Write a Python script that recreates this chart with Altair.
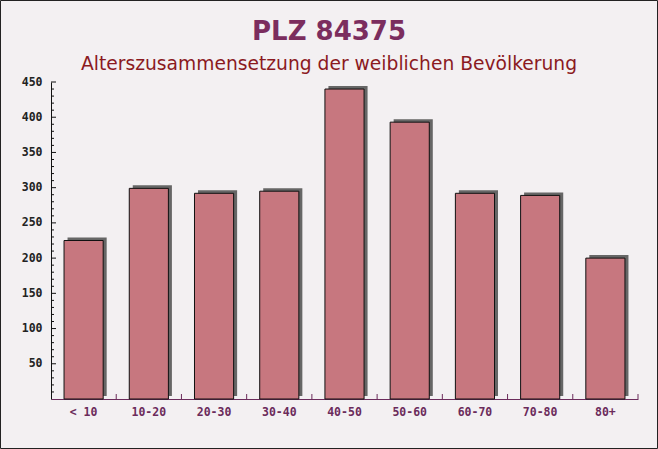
import altair as alt
import pandas as pd

categories = ["< 10", "10-20", "20-30", "30-40", "40-50", "50-60", "60-70", "70-80", "80+"]
values = [225, 299, 292, 295, 440, 393, 292, 289, 200]
y_minor_ticks = [10, 20, 30, 40, 60, 70, 80, 90, 110, 120, 130, 140, 160, 170, 180, 190,
                 210, 220, 230, 240, 260, 270, 280, 290, 310, 320, 330, 340, 360, 370,
                 380, 390, 410, 420, 430, 440]
y_labels = [50, 100, 150, 200, 250, 300, 350, 400, 450]
title_text = "PLZ 84375"
subtitle_text = "Alterszusammensetzung der weiblichen Bevölkerung"

W, H = 587, 317
PAD_L, PAD_T, PAD_R, PAD_B = 51, 82, 20, 50
STEP = W / len(categories)
CENTER = 329 - PAD_L

df = pd.DataFrame({"cat": categories, "val": values})
minor_df = pd.DataFrame({"t": y_minor_ticks})
major_df = pd.DataFrame({"t": y_labels})
xt_df = pd.DataFrame({"cat": categories})
one = pd.DataFrame({"a": [0]})

xscale = alt.Scale(domain=categories, paddingInner=0.4, paddingOuter=0.2)
yscale = alt.Scale(domain=[0, 450], nice=False)

mono = "DejaVu Sans Mono"

x_axis = alt.Axis(title=None, ticks=False, domain=True, domainColor="#6b2b5b",
                  domainWidth=1, labelFont=mono, labelFontWeight="bold",
                  labelFontSize=11.5, labelColor="#6b2b5b", labelPadding=7,
                  labelAngle=0, grid=False)
y_axis = alt.Axis(title=None, values=y_labels, ticks=False, grid=False,
                  domainColor="#111111", labelFont=mono, labelFontWeight="bold",
                  labelFontSize=11.5, labelColor="#222222", labelPadding=9)

shadow = alt.Chart(df).mark_bar(color="#5e5e5e", xOffset=3.5, yOffset=-3, opacity=0.95).encode(
    x=alt.X("cat:N", scale=xscale, sort=categories, axis=x_axis),
    y=alt.Y("val:Q", scale=yscale, axis=y_axis),
)

bars = alt.Chart(df).mark_bar(color="#c7777f", stroke="#111111", strokeWidth=1).encode(
    x=alt.X("cat:N", scale=xscale, sort=categories, axis=x_axis),
    y=alt.Y("val:Q", scale=yscale, axis=y_axis),
)

ytick_minor = alt.Chart(minor_df).mark_rule(color="#111111", strokeWidth=1).encode(
    y=alt.Y("t:Q", scale=yscale, axis=y_axis),
    x=alt.value(0),
    x2=alt.value(3),
)
ytick_major = alt.Chart(major_df).mark_rule(color="#111111", strokeWidth=1).encode(
    y=alt.Y("t:Q", scale=yscale, axis=y_axis),
    x=alt.value(0),
    x2=alt.value(5),
)

xtick_rules = alt.Chart(xt_df).mark_rule(color="#6b2b5b", strokeWidth=1,
                                         xOffset=STEP / 2).encode(
    x=alt.X("cat:N", scale=xscale, sort=categories, axis=x_axis),
    y=alt.value(H - 5),
    y2=alt.value(H),
)

title_mark = alt.Chart(one).mark_text(
    text=title_text, font="DejaVu Sans", fontSize=26, fontWeight="bold",
    color="#7b2d5e", align="center", baseline="alphabetic").encode(
    x=alt.value(CENTER), y=alt.value(40 - PAD_T))

subtitle_mark = alt.Chart(one).mark_text(
    text=subtitle_text, font="DejaVu Sans", fontSize=18.7,
    color="#8b1a1f", align="center", baseline="alphabetic").encode(
    x=alt.value(CENTER), y=alt.value(70 - PAD_T))

border = alt.Chart(one).mark_rect(
    fill=None, stroke="#222222", strokeWidth=1).encode(
    x=alt.value(-PAD_L + 0.5), x2=alt.value(W + PAD_R - 0.5),
    y=alt.value(-PAD_T + 0.5), y2=alt.value(H + PAD_B - 0.5),
)

chart = alt.layer(shadow, bars, ytick_minor, ytick_major, xtick_rules,
                  title_mark, subtitle_mark, border).properties(
    width=W, height=H,
    autosize=alt.AutoSizeParams(type="none"),
    padding={"left": PAD_L, "top": PAD_T, "right": PAD_R, "bottom": PAD_B},
    background="#f3f0f2",
).configure_view(stroke=None)

chart.save("out.html", embed_options={"renderer": "svg", "actions": False})
